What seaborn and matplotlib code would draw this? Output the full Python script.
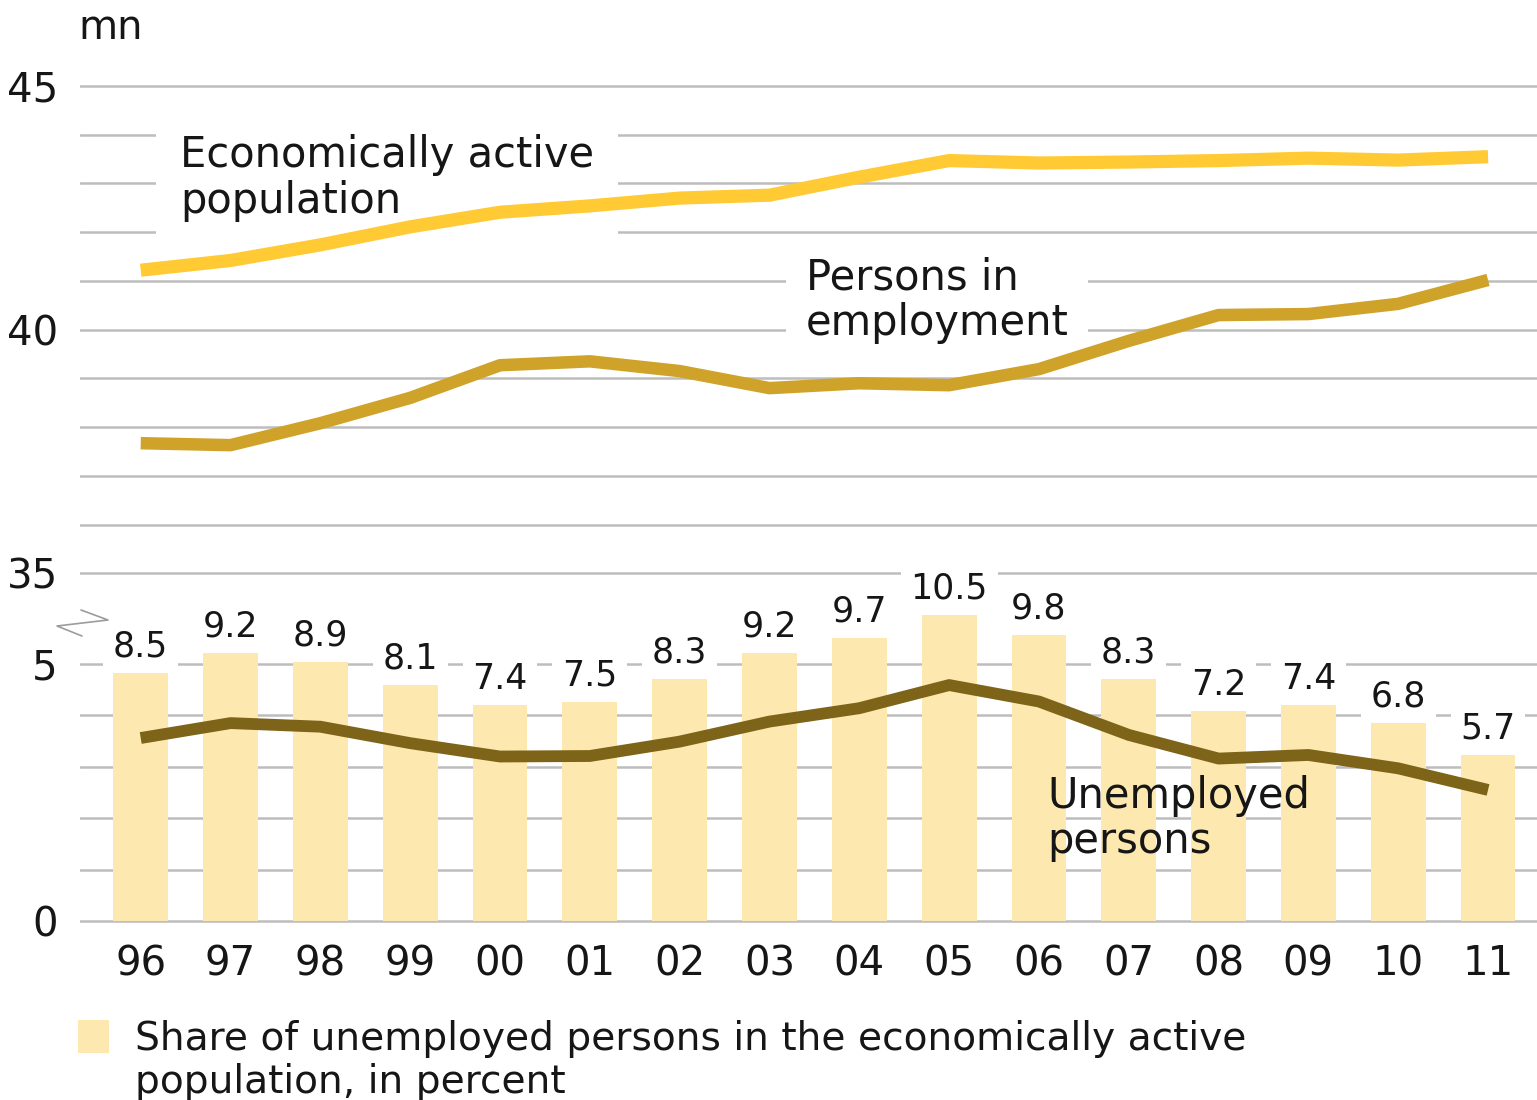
import numpy as np
import matplotlib
matplotlib.use("Agg")
import matplotlib.pyplot as plt
import seaborn as sns
from matplotlib.lines import Line2D
from matplotlib.patches import Rectangle

# ---------------- data ----------------
years = ["96", "97", "98", "99", "00", "01", "02", "03",
         "04", "05", "06", "07", "08", "09", "10", "11"]
active = [41.22, 41.42, 41.74, 42.11, 42.41, 42.54, 42.70, 42.76,
          43.13, 43.47, 43.42, 43.44, 43.47, 43.52, 43.48, 43.55]
employed = [37.67, 37.63, 38.08, 38.60, 39.27, 39.35, 39.15, 38.80,
            38.90, 38.86, 39.19, 39.77, 40.30, 40.32, 40.53, 41.02]
unemployed = [3.56, 3.85, 3.78, 3.46, 3.20, 3.21, 3.49, 3.88,
              4.14, 4.59, 4.27, 3.62, 3.16, 3.23, 2.97, 2.55]
share = [8.5, 9.2, 8.9, 8.1, 7.4, 7.5, 8.3, 9.2,
         9.7, 10.5, 9.8, 8.3, 7.2, 7.4, 6.8, 5.7]
top_ticks = list(range(35, 46))
top_ticklabels = ["35", "", "", "", "", "40", "", "", "", "", "45"]
bot_ticks = list(range(0, 6))
bot_ticklabels = ["0", "", "", "", "", "5"]

# ---------------- style ----------------
C_ACTIVE = "#FFCA33"
C_EMPL = "#CFA22A"
C_UNEMP = "#7E6419"
C_BAR = "#FDE9AF"
C_GRID = "#BDBDBD"
C_TEXT = "#161616"

sns.set_style("white")
plt.rcParams["font.family"] = ["DejaVu Sans"]

W, H = 1537, 1100
fig = plt.figure(figsize=(W / 100, H / 100), dpi=100)
fig.patch.set_facecolor("white")


def fx(px):
    return px / W


def fy(py):
    return 1 - py / H


X0, X1 = 80, 1537
ax_bot = fig.add_axes([fx(X0), fy(926), fx(X1) - fx(X0), fy(598) - fy(926)])
ax_top = fig.add_axes([fx(X0), fy(598), fx(X1) - fx(X0), fy(60) - fy(598)],
                      sharex=ax_bot)
ax_bar = ax_bot.twinx()
ax_unemp = ax_bot.twinx()

pos = np.arange(len(years))

# lines in the upper panel
sns.lineplot(x=pos, y=active, ax=ax_top, color=C_ACTIVE, linewidth=9.5,
             solid_capstyle="butt", solid_joinstyle="round", zorder=3)
sns.lineplot(x=pos, y=employed, ax=ax_top, color=C_EMPL, linewidth=9.0,
             solid_capstyle="butt", solid_joinstyle="round", zorder=3)

# bars (percent)
sns.barplot(x=pos, y=share, ax=ax_bar, native_scale=True, width=0.61,
            color=C_BAR, saturation=1, errorbar=None, linewidth=0)

# unemployed line
sns.lineplot(x=pos, y=unemployed, ax=ax_unemp, color=C_UNEMP, linewidth=8.5,
             solid_capstyle="butt", solid_joinstyle="round", zorder=3)

# bar labels
for i, v in enumerate(share):
    ax_bar.annotate(f"{v}", xy=(pos[i], v), xytext=(0, 12),
                    textcoords="offset points", ha="center", va="baseline",
                    fontsize=25, color=C_TEXT, zorder=0.9,
                    bbox=dict(fc="white", ec="none", pad=7))

# ---------------- axes formatting ----------------
xl = (-0.676, 15.545)
ax_bot.set_xlim(*xl)
ax_top.set_ylim(34.493, 45.534)
ax_bot.set_ylim(-0.0973, 6.284)
ax_unemp.set_ylim(-0.0973, 6.284)
ax_bar.set_ylim(-0.1716, 11.085)

for ax in (ax_top, ax_bot, ax_bar, ax_unemp):
    for s in ax.spines.values():
        s.set_visible(False)
    ax.set_xlabel("")
    ax.set_ylabel("")
    ax.patch.set_visible(False)

ax_top.set_yticks(top_ticks)
ax_top.set_yticklabels(top_ticklabels)
ax_bot.set_yticks(bot_ticks)
ax_bot.set_yticklabels(bot_ticklabels)
ax_bot.set_xticks(pos)
ax_bot.set_xticklabels(years)
ax_bot.set_xlim(*xl)

for ax in (ax_top, ax_bot):
    ax.set_axisbelow(True)
    ax.grid(axis="y", color=C_GRID, linewidth=1.8)
    ax.grid(axis="x", visible=False)
    ax.tick_params(axis="y", length=0, pad=16, labelsize=29, labelcolor=C_TEXT)
ax_bot.tick_params(axis="x", length=0, pad=13, labelsize=29, labelcolor=C_TEXT)
ax_top.tick_params(axis="x", length=0, labelbottom=False, bottom=False)
for ax in (ax_bar, ax_unemp):
    ax.set_yticks([])
    ax.tick_params(axis="both", length=0, labelleft=False, labelright=False,
                   labelbottom=False)

# ---------------- text labels (y = baseline of last line) ----------------
ax_top.text(fx(180), fy(213), "Economically active\npopulation",
            transform=fig.transFigure, fontsize=30, color=C_TEXT,
            va="baseline", ha="left", linespacing=1.12, zorder=2,
            bbox=dict(fc="white", ec="none", pad=17))
ax_top.text(fx(806), fy(335), "Persons in\nemployment",
            transform=fig.transFigure, fontsize=30, color=C_TEXT,
            va="baseline", ha="left", linespacing=1.12, zorder=2,
            bbox=dict(fc="white", ec="none", pad=14))
ax_unemp.text(fx(1047), fy(853), "Unemployed\npersons",
              transform=fig.transFigure, fontsize=30, color=C_TEXT,
              va="baseline", ha="left", linespacing=1.1, zorder=2)

fig.text(fx(78), fy(39), "mn", fontsize=29, color=C_TEXT, va="baseline",
         ha="left")

# axis break mark
fig.add_artist(Line2D([fx(81), fx(108), fx(57), fx(82)],
                      [fy(610), fy(620), fy(626), fy(636)],
                      transform=fig.transFigure, color="#9c9c9c", lw=1.2))

# legend
fig.add_artist(Rectangle((fx(78), fy(1053)), fx(109) - fx(78),
                         fy(1020) - fy(1053), transform=fig.transFigure,
                         fc=C_BAR, ec="none"))
fig.text(fx(135), fy(1093),
         "Share of unemployed persons in the economically active\npopulation, in percent",
         fontsize=28.2, color=C_TEXT, va="baseline", ha="left",
         linespacing=1.17)

fig.savefig("out.png", dpi=100, facecolor="white")
